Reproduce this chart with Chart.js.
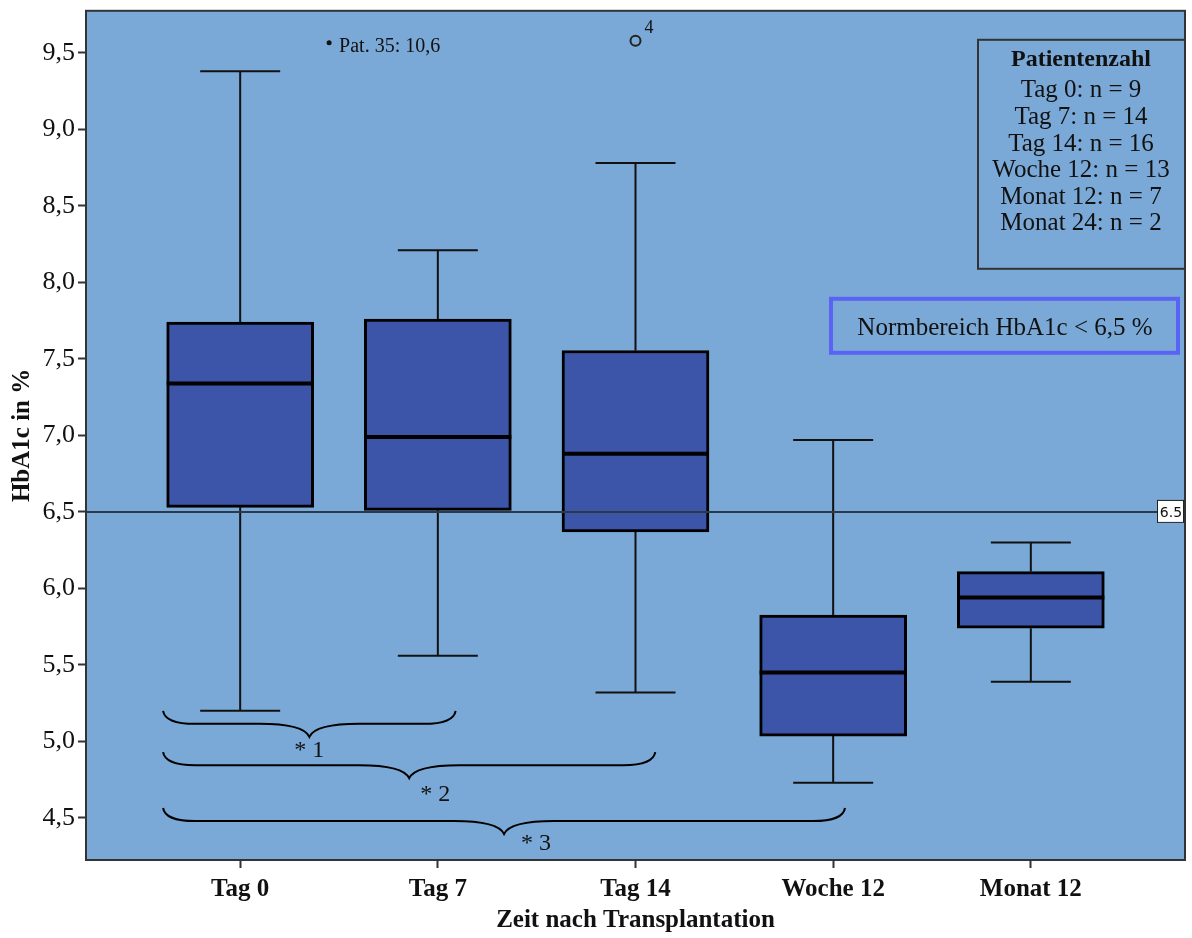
<!DOCTYPE html>
<html lang="de">
<head>
    <meta charset="UTF-8">
    <title>HbA1c nach Transplantation</title>
    <script src="https://cdn.jsdelivr.net/npm/chart.js"></script>
    <style>
        body {
            margin: 0;
            padding: 0;
            background-color: #ffffff;
        }
        #wrap {
            width: 1192px;
            height: 938px;
        }
    </style>
</head>
<body>
    <div id="wrap">
        <canvas id="hba1cChart" width="1192" height="938"></canvas>
    </div>

    <script>
        // Daten
        const categories = ['Tag 0', 'Tag 7', 'Tag 14', 'Woche 12', 'Monat 12'];
        const whiskerLow = [5.20, 5.56, 5.32, 4.73, 5.39];
        const q1 = [6.53, 6.51, 6.37, 5.035, 5.74];
        const median = [7.34, 6.99, 6.88, 5.45, 5.94];
        const q3 = [7.74, 7.76, 7.555, 5.825, 6.11];
        const whiskerHigh = [9.38, 8.21, 8.78, 6.97, 6.30];

        const outlierX = [2];
        const outlierY = [9.58];
        const outlierLabel = ['4'];

        const yTicks = [4.5, 5.0, 5.5, 6.0, 6.5, 7.0, 7.5, 8.0, 8.5, 9.0, 9.5];
        const refValue = 6.5;

        const patientTitle = 'Patientenzahl';
        const patientLines = ['Tag 0: n = 9', 'Tag 7: n = 14', 'Tag 14: n = 16', 'Woche 12: n = 13', 'Monat 12: n = 7', 'Monat 24: n = 2'];
        const normText = 'Normbereich HbA1c < 6,5 %';
        const extremeNote = 'Pat. 35: 10,6';

        // Signifikanz-Klammern
        const braceFrom = [-0.39, -0.39, -0.39];
        const braceTo = [1.09, 2.10, 3.06];
        const braceY = [5.20, 4.93, 4.565];
        const braceText = ['* 1', '* 2', '* 3'];

        const SERIF = "'Liberation Serif', 'Times New Roman', serif";
        const BOX_W = 147;

        const boxPlugin = {
            id: 'boxExtras',
            beforeDraw(chart) {
                const { ctx, chartArea: a } = chart;
                ctx.save();
                ctx.fillStyle = '#7aa9d7';
                ctx.fillRect(a.left, a.top, a.right - a.left, a.bottom - a.top);
                ctx.restore();
            },
            beforeDatasetsDraw(chart) {
                const { ctx } = chart;
                const x = chart.scales.x, y = chart.scales.y;
                ctx.save();
                ctx.strokeStyle = '#111';
                ctx.lineWidth = 2;
                categories.forEach((c, i) => {
                    const cx = x.getPixelForValue(i);
                    ctx.beginPath();
                    ctx.moveTo(cx, y.getPixelForValue(whiskerHigh[i]));
                    ctx.lineTo(cx, y.getPixelForValue(q3[i]));
                    ctx.moveTo(cx, y.getPixelForValue(q1[i]));
                    ctx.lineTo(cx, y.getPixelForValue(whiskerLow[i]));
                    ctx.moveTo(cx - 40, y.getPixelForValue(whiskerHigh[i]));
                    ctx.lineTo(cx + 40, y.getPixelForValue(whiskerHigh[i]));
                    ctx.moveTo(cx - 40, y.getPixelForValue(whiskerLow[i]));
                    ctx.lineTo(cx + 40, y.getPixelForValue(whiskerLow[i]));
                    ctx.stroke();
                });
                ctx.restore();
            },
            afterDatasetsDraw(chart) {
                const { ctx, chartArea: a } = chart;
                const x = chart.scales.x, y = chart.scales.y;
                ctx.save();

                // Mediane
                ctx.strokeStyle = '#000';
                ctx.lineWidth = 4;
                categories.forEach((c, i) => {
                    const cx = x.getPixelForValue(i);
                    const my = y.getPixelForValue(median[i]);
                    ctx.beginPath();
                    ctx.moveTo(cx - BOX_W / 2, my);
                    ctx.lineTo(cx + BOX_W / 2, my);
                    ctx.stroke();
                });

                // Referenzlinie 6,5
                const ry = y.getPixelForValue(refValue);
                ctx.strokeStyle = '#2b3a4a';
                ctx.lineWidth = 2;
                ctx.beginPath();
                ctx.moveTo(a.left, ry);
                ctx.lineTo(a.right, ry);
                ctx.stroke();
                ctx.fillStyle = '#fff';
                ctx.fillRect(a.right - 27, ry - 11, 26, 22);
                ctx.strokeStyle = '#222';
                ctx.lineWidth = 1;
                ctx.strokeRect(a.right - 27.5, ry - 11.5, 26, 22);
                ctx.fillStyle = '#111';
                ctx.font = "14px 'DejaVu Sans', sans-serif";
                ctx.textAlign = 'center';
                ctx.textBaseline = 'middle';
                ctx.fillText('6.5', a.right - 14, ry + 1);

                // Klammern
                const labelDx = [0, 26, 32];
                const labelDy = [14, 17, 10];
                ctx.strokeStyle = '#000';
                ctx.lineWidth = 2;
                braceFrom.forEach((f, i) => {
                    const x1 = x.getPixelForValue(f);
                    const x2 = x.getPixelForValue(braceTo[i]);
                    const yt = y.getPixelForValue(braceY[i]);
                    const d = 13;
                    const xc = (x1 + x2) / 2, yl = yt + d, yp = yt + 2 * d;
                    ctx.beginPath();
                    ctx.moveTo(x1, yt);
                    ctx.quadraticCurveTo(x1 + 2, yl, x1 + 32, yl);
                    ctx.lineTo(xc - 50, yl);
                    ctx.quadraticCurveTo(xc - 6, yl, xc, yp);
                    ctx.quadraticCurveTo(xc + 6, yl, xc + 50, yl);
                    ctx.lineTo(x2 - 32, yl);
                    ctx.quadraticCurveTo(x2 - 2, yl, x2, yt);
                    ctx.stroke();
                    ctx.fillStyle = '#111';
                    ctx.font = '24px ' + SERIF;
                    ctx.textAlign = 'center';
                    ctx.textBaseline = 'middle';
                    ctx.fillText(braceText[i], xc + labelDx[i], yp + labelDy[i]);
                });

                // Ausreißer-Beschriftung
                ctx.font = '18px ' + SERIF;
                ctx.textAlign = 'left';
                ctx.textBaseline = 'middle';
                outlierX.forEach((ox, i) => {
                    ctx.fillText(outlierLabel[i], x.getPixelForValue(ox) + 9, y.getPixelForValue(outlierY[i]) - 12);
                });

                // Extremwert außerhalb der Skala
                const ex = x.getPixelForValue(0.45), ey = a.top + 32;
                ctx.beginPath();
                ctx.arc(ex, ey, 2.5, 0, Math.PI * 2);
                ctx.fill();
                ctx.font = '20px ' + SERIF;
                ctx.fillText(extremeNote, ex + 10, ey + 4);

                // Patientenzahl-Kasten
                const bx = a.right - 207, by = a.top + 29;
                ctx.strokeStyle = '#333';
                ctx.lineWidth = 2;
                ctx.strokeRect(bx, by, a.right - bx, 229);
                const tcx = bx + 103;
                ctx.textAlign = 'center';
                ctx.font = 'bold 24px ' + SERIF;
                ctx.fillText(patientTitle, tcx, by + 20);
                ctx.font = '25px ' + SERIF;
                patientLines.forEach((t, i) => {
                    ctx.fillText(t, tcx, by + 51 + i * 26.6);
                });

                // Normbereich-Kasten
                ctx.strokeStyle = '#5b63f5';
                ctx.lineWidth = 4;
                ctx.strokeRect(831, a.top + 288, 347, 54);
                ctx.font = '25px ' + SERIF;
                ctx.fillText(normText, 1005, a.top + 318);

                // Rahmen
                ctx.strokeStyle = '#333';
                ctx.lineWidth = 2;
                ctx.strokeRect(a.left, a.top, a.right - a.left, a.bottom - a.top);

                ctx.restore();
            }
        };

        const ctx = document.getElementById('hba1cChart').getContext('2d');

        const hba1cChart = new Chart(ctx, {
            type: 'bar',
            data: {
                datasets: [
                    {
                        label: 'Box',
                        data: categories.map((c, i) => ({ x: i, y: [q1[i], q3[i]] })),
                        backgroundColor: '#3c55a8',
                        borderColor: '#000',
                        borderWidth: 3,
                        borderSkipped: false,
                        barThickness: BOX_W
                    },
                    {
                        type: 'scatter',
                        label: 'Ausreißer',
                        data: outlierX.map((ox, i) => ({ x: ox, y: outlierY[i] })),
                        pointRadius: 5,
                        pointBorderWidth: 2,
                        borderColor: '#222',
                        backgroundColor: 'rgba(0,0,0,0)'
                    }
                ]
            },
            options: {
                responsive: false,
                animation: false,
                layout: {
                    padding: { top: 10, right: 4, left: 0, bottom: 0 }
                },
                plugins: {
                    legend: { display: false },
                    tooltip: { enabled: false }
                },
                scales: {
                    x: {
                        type: 'linear',
                        offset: false,
                        min: -0.78,
                        max: 4.78,
                        afterBuildTicks: s => { s.ticks = categories.map((c, i) => ({ value: i })); },
                        afterFit: s => { s.height = 78; },
                        grid: {
                            offset: false,
                            drawOnChartArea: false,
                            drawTicks: true,
                            tickLength: 8,
                            tickWidth: 2,
                            tickColor: '#333'
                        },
                        border: { display: false },
                        ticks: {
                            padding: 7,
                            color: '#111',
                            font: { family: SERIF, size: 25, weight: 'bold' },
                            callback: v => categories[v]
                        },
                        title: {
                            display: true,
                            text: 'Zeit nach Transplantation',
                            color: '#111',
                            font: { family: SERIF, size: 25, weight: 'bold' },
                            padding: { top: 0, bottom: 2 }
                        }
                    },
                    y: {
                        min: 4.225,
                        max: 9.775,
                        afterBuildTicks: s => { s.ticks = yTicks.map(v => ({ value: v })); },
                        afterFit: s => { s.width = 86; },
                        grid: {
                            drawOnChartArea: false,
                            drawTicks: true,
                            tickLength: 8,
                            tickWidth: 2,
                            tickColor: '#333'
                        },
                        border: { display: false },
                        ticks: {
                            padding: 3,
                            color: '#111',
                            font: { family: SERIF, size: 26, lineHeight: 0.6 },
                            callback: v => v.toFixed(1).replace('.', ',')
                        },
                        title: {
                            display: true,
                            text: 'HbA1c in %',
                            color: '#111',
                            font: { family: SERIF, size: 25, weight: 'bold' },
                            padding: { top: 8, bottom: 0 }
                        }
                    }
                }
            },
            plugins: [boxPlugin]
        });
    </script>
</body>
</html>
